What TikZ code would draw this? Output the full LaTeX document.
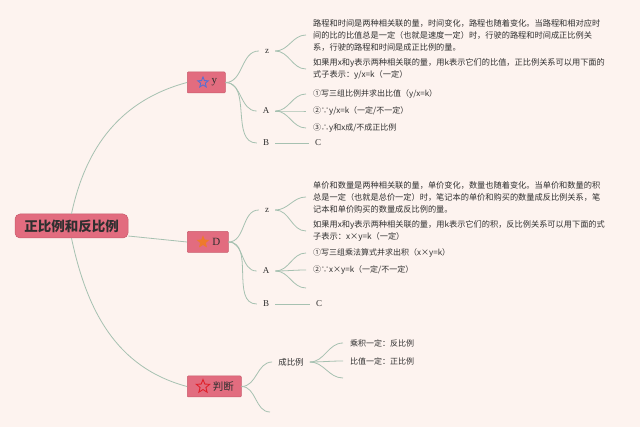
\documentclass[tikz,border=0pt]{standalone}
\usepackage{fontspec}
\usetikzlibrary{shapes.geometric}
\setmainfont{Noto Sans CJK SC}
\newfontfamily\latinfont{Liberation Serif}

\definecolor{bgpink}{HTML}{FDF3EF}
\definecolor{boxred}{HTML}{E26C7F}
\definecolor{boxedge}{HTML}{C85B6D}
\definecolor{twiggreen}{HTML}{A6C1B1}
\definecolor{inkgray}{HTML}{2F2F2F}
\definecolor{starblue}{HTML}{5A6FD0}
\definecolor{starorange}{HTML}{EE7A2C}
\definecolor{starred}{HTML}{E0202A}

\tikzset{
  topic/.style={fill=boxred, draw=boxedge, line width=0.5pt, rounded corners=1pt,
    minimum height=21pt, inner sep=2pt, text=inkgray},
  badge/.style={star, star points=5, star point ratio=2.3, minimum size=#1, inner sep=0pt,
    line width=0.9pt},
  twig/.style={draw=twiggreen, line width=0.8pt},
  leaf/.style={inner xsep=6pt, inner ysep=2pt, text=inkgray, font=\latinfont\fontsize{9}{10}\selectfont},
  para/.style={anchor=west, align=left, inner xsep=7pt, inner ysep=0pt, text=inkgray,
    font=\fontsize{8.2}{12}\selectfont},
  item/.style={anchor=west, inner xsep=7pt, inner ysep=0pt, text=inkgray, font=\fontsize{8}{10}\selectfont},
}

\begin{document}
\begin{tikzpicture}[x=1pt, y=1pt]
    % --- Canvas ---
    \fill[bgpink] (0,0) rectangle (640,-427);
    \useasboundingbox (0,0) rectangle (640,-427);

    % --- Configuration ---
    \def\topicX{187}   % left edge of the topic boxes
    \def\textX{306}    % left edge of the texts (incl. gap)
    \def\itemH{17}     % spacing of the numbered items

    % --- Root ---
    \node[topic, rounded corners=5pt, minimum width=113pt, minimum height=24pt,
      font=\bfseries\fontsize{13.5}{14}\selectfont] (root) at (71.5,-226) {正比例和反比例};

    % --- Topics ---
    \node[topic, anchor=west, minimum width=38pt, font=\latinfont\fontsize{11}{11}\selectfont]
      (ny) at (\topicX,-82.5) {\hspace{16pt}y};
    \node[topic, anchor=west, minimum width=41pt, font=\latinfont\fontsize{11}{11}\selectfont]
      (nd) at (\topicX,-242) {\hspace{17pt}D};
    \node[topic, anchor=west, minimum width=54pt, font=\fontsize{10.5}{11}\selectfont]
      (nj) at (\topicX,-386.5) {\hspace{18pt}判断};

    \node[badge=11pt, draw=starblue] (sy) at ([xshift=16pt]ny.west) {};
    \node[badge=11pt, draw=starorange, fill=starorange] (sd) at ([xshift=16pt]nd.west) {};
    \node[badge=14pt, draw=starred] (sj) at ([xshift=16pt]nj.west) {};

    \draw[twig] (root.north) to[out=78, in=195] (ny.west);
    \draw[twig] (root.-10) -- (nd.west);
    \draw[twig] (root.south) to[out=-78, in=165] (nj.west);

    % --- Topic y ---
    \node[leaf] (yz) at (267,-51) {z};
    \node[leaf] (ya) at (266,-111) {A};
    \node[leaf] (yb) at (266,-143) {B};
    \node[leaf] (yc) at (318,-143) {C};
    \foreach \k in {yz,ya,yb} {
        \draw[twig] (ny.east) to[out=0, in=180] (\k.west);
    }

    \node[para] (yzp) at (\textX,-35) {路程和时间是两种相关联的量，时间变化，路程也随着变化。当路程和相对应时\\间的比的比值总是一定（也就是速度一定）时，行驶的路程和时间成正比例关\\系，行驶的路程和时间是成正比例的量。};
    \node[para] (yzq) at (\textX,-69) {如果用x和y表示两种相关联的量，用k表示它们的比值，正比例关系可以用下面的\\式子表示：y/x=k（一定）};
    \draw[twig] (yz.east) to[out=0, in=180] (yzp.west);
    \draw[twig] (yz.east) to[out=0, in=180] (yzq.west);

    \foreach \t [count=\i] in {①写三组比例并求出比值（y/x=k）, ②∵y/x=k（一定/不一定）, ③∴y和x成/不成正比例} {
        \node[item] (ya\i) at (\textX, {-94-\itemH*(\i-1)}) {\t};
        \draw[twig] (ya.east) to[out=0, in=180] (ya\i.west);
    }
    \draw[twig] (yb.east) -- (yc.west);

    % --- Topic D ---
    \node[leaf] (dz) at (267,-210) {z};
    \node[leaf] (da) at (266,-271) {A};
    \node[leaf] (db) at (266,-304) {B};
    \node[leaf] (dc) at (319,-304) {C};
    \foreach \k in {dz,da,db} {
        \draw[twig] (nd.east) to[out=0, in=180] (\k.west);
    }

    \node[para] (dzp) at (\textX,-197) {单价和数量是两种相关联的量，单价变化，数量也随着变化。当单价和数量的积\\总是一定（也就是总价一定）时，笔记本的单价和购买的数量成反比例关系，笔\\记本和单价购买的数量成反比例的量。};
    \node[para] (dzq) at (\textX,-231) {如果用x和y表示两种相关联的量，用k表示它们的积，反比例关系可以用下面的式\\子表示：x×y=k（一定）};
    \draw[twig] (dz.east) to[out=0, in=180] (dzp.west);
    \draw[twig] (dz.east) to[out=0, in=180] (dzq.west);

    \node[item] (da1) at (\textX,-253) {①写三组乘法算式并求出积（x×y=k）};
    \node[item] (da2) at (\textX,-270) {②∵x×y=k（一定/不一定）};
    \coordinate (da3) at (\textX,-288);
    \foreach \k in {da1,da2,da3} {
        \draw[twig] (da.east) to[out=0, in=180] (\k);
    }
    \draw[twig] (db.east) -- (dc.west);

    % --- Topic 判断 ---
    \node[leaf, font=\fontsize{8.4}{10}\selectfont] (jc) at (291,-362) {成比例};
    \coordinate (jx) at (270,-412);
    \draw[twig] (nj.east) to[out=0, in=180] (jc.west);
    \draw[twig] (nj.east) to[out=0, in=180] (jx);

    \node[item] (jc1) at (343,-343) {乘积一定：反比例};
    \node[item] (jc2) at (343,-361) {比值一定：正比例};
    \coordinate (jc3) at (343,-378);
    \foreach \k in {jc1,jc2,jc3} {
        \draw[twig] (jc.east) to[out=0, in=180] (\k);
    }
\end{tikzpicture}
\end{document}
